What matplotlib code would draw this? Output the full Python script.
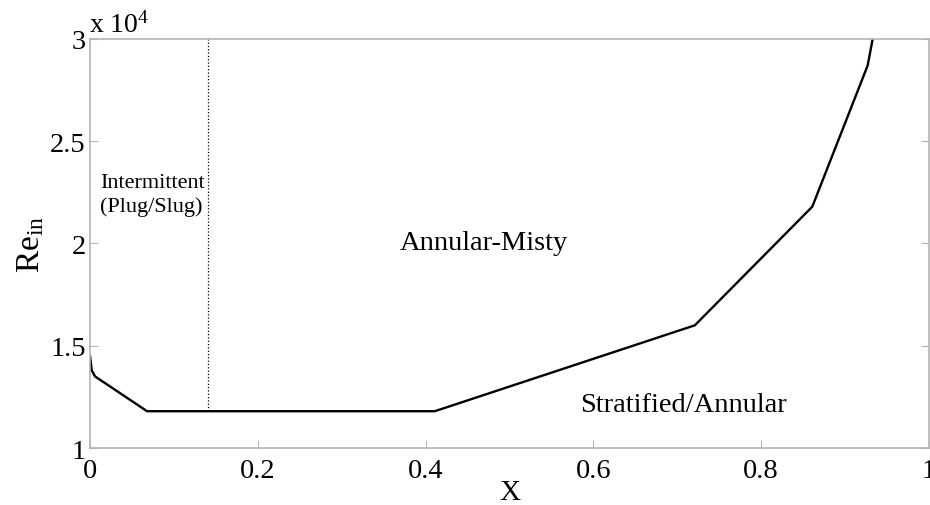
import matplotlib
matplotlib.use("Agg")
import matplotlib.pyplot as plt
from matplotlib.ticker import FuncFormatter

plt.rcParams['font.family'] = ['Liberation Serif', 'DejaVu Serif']
plt.rcParams['mathtext.fontset'] = 'custom'
plt.rcParams['mathtext.rm'] = 'Liberation Serif'
plt.rcParams['mathtext.it'] = 'Liberation Serif:italic'

# transition boundary between flow regimes
quality = [0.0, 0.002, 0.006, 0.068, 0.411, 0.721, 0.861, 0.927, 0.933]
re_in = [14500, 13800, 13500, 11800, 11800, 16000, 21800, 28700, 30000]

# intermittent / annular-misty split
x_split = 0.1405
re_split = [11800, 30000]

x_ticks = [0, 0.2, 0.4, 0.6, 0.8, 1.0]
y_ticks = [10000, 15000, 20000, 25000, 30000]

fig = plt.figure(figsize=(9.3, 5.06), dpi=100)
ax = fig.add_axes([0.0968, 0.1126, 0.902, 0.8084])

ax.plot(quality, re_in, color='black', linewidth=1.7)
ax.plot([x_split, x_split], re_split, color='black', linestyle=':', linewidth=0.9)

ax.set_xlim(0, 1)
ax.set_ylim(10000, 30000)
ax.set_xticks(x_ticks)
ax.set_yticks(y_ticks)
ax.xaxis.set_major_formatter(FuncFormatter(lambda v, p: '%g' % v))
ax.yaxis.set_major_formatter(FuncFormatter(lambda v, p: '%g' % (v / 1e4)))

grey = '#b4b4b4'
for s in ax.spines.values():
    s.set_color(grey)
    s.set_linewidth(1.2)
ax.tick_params(direction='in', length=6, width=0.8, color=grey,
               labelsize=20.5, top=False, right=True, pad=3)
ax.tick_params(axis='x', pad=7)

ax.set_xlabel('X', fontsize=21, labelpad=-3)
ax.set_ylabel(r'$\mathrm{Re}_{\mathrm{in}}$', fontsize=24, labelpad=3)

fig.text(0.096, 0.924, r'x 10$^{4}$', fontsize=20, ha='left', va='bottom')

ax.text(0.012, 22400, 'Intermittent\n(Plug/Slug)', fontsize=16,
        ha='left', va='center', linespacing=1.25)
ax.text(0.47, 20050, 'Annular-Misty', fontsize=20.5, ha='center', va='center')
ax.text(0.708, 12150, 'Stratified/Annular', fontsize=20.5, ha='center', va='center')

fig.savefig('out.png', dpi=100)
